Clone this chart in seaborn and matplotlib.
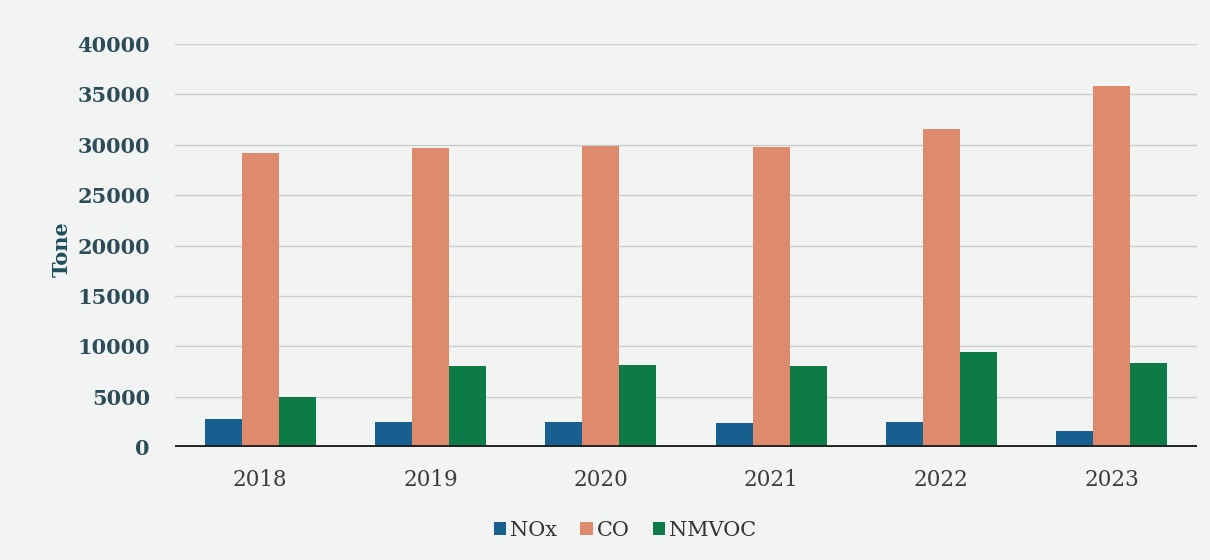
import matplotlib
matplotlib.use("Agg")
import matplotlib.pyplot as plt
import seaborn as sns
import pandas as pd
from matplotlib.patches import Patch

years = ["2018", "2019", "2020", "2021", "2022", "2023"]
nox = [2750, 2500, 2500, 2400, 2450, 1600]
co = [29200, 29700, 29900, 29800, 31600, 35800]
nmvoc = [4950, 8050, 8150, 8050, 9450, 8300]
series_names = ["NOx", "CO", "NMVOC"]
colors = ["#175f8f", "#de8a6c", "#0c7b47"]
y_ticks = [0, 5000, 10000, 15000, 20000, 25000, 30000, 35000, 40000]

df = pd.DataFrame({
    "An": years * 3,
    "Poluant": [series_names[0]] * 6 + [series_names[1]] * 6 + [series_names[2]] * 6,
    "Tone": nox + co + nmvoc,
})

sns.set_theme(style="white")
plt.rcParams["font.family"] = ["DejaVu Serif", "DejaVu Sans"]

bg = "#f2f4f4"
fig = plt.figure(figsize=(12.1, 5.6), dpi=100, facecolor=bg)
ax = fig.add_axes([175 / 1210, 1 - 447 / 560, (1197 - 175) / 1210, (447 - 44) / 560])
ax.set_facecolor(bg)

sns.barplot(data=df, x="An", y="Tone", hue="Poluant", order=years,
            hue_order=series_names, palette=colors, width=0.65,
            saturation=1, errorbar=None, legend=False, ax=ax, zorder=3,
            linewidth=0, edgecolor="none")

ax.set_ylim(0, 40000)
ax.set_xlim(-0.5, len(years) - 0.5)
ax.set_yticks(y_ticks)
ax.set_yticklabels([str(v) for v in y_ticks])
for v in y_ticks[1:]:
    ax.axhline(v, color="#cbcece", lw=1.0, zorder=1)
ax.axhline(0, color="#222222", lw=2.8, zorder=4)

for s in ax.spines.values():
    s.set_visible(False)
ax.tick_params(axis="both", length=0)
ax.tick_params(axis="y", pad=18, labelsize=15, labelcolor="#2c4c58")
ax.tick_params(axis="x", pad=16, labelsize=15.5, labelcolor="#3d3d3d")
for t in ax.get_yticklabels():
    t.set_fontweight("semibold")

ax.set_xlabel("")
ax.set_ylabel("Tone", fontsize=15, fontweight="bold", color="#1f4e5c")
ax.yaxis.set_label_coords(-0.101, 0.49)

handles = [Patch(facecolor=c, edgecolor="none", label=n) for c, n in zip(colors, series_names)]
fig.legend(handles=handles, loc="center", bbox_to_anchor=(625 / 1210, 1 - 530 / 560),
           ncol=3, frameon=False, fontsize=15, handlelength=0.6, handleheight=0.6,
           handletextpad=0.2, columnspacing=1.1, labelcolor="#333333")

fig.savefig("out.png", dpi=100, facecolor=bg)
